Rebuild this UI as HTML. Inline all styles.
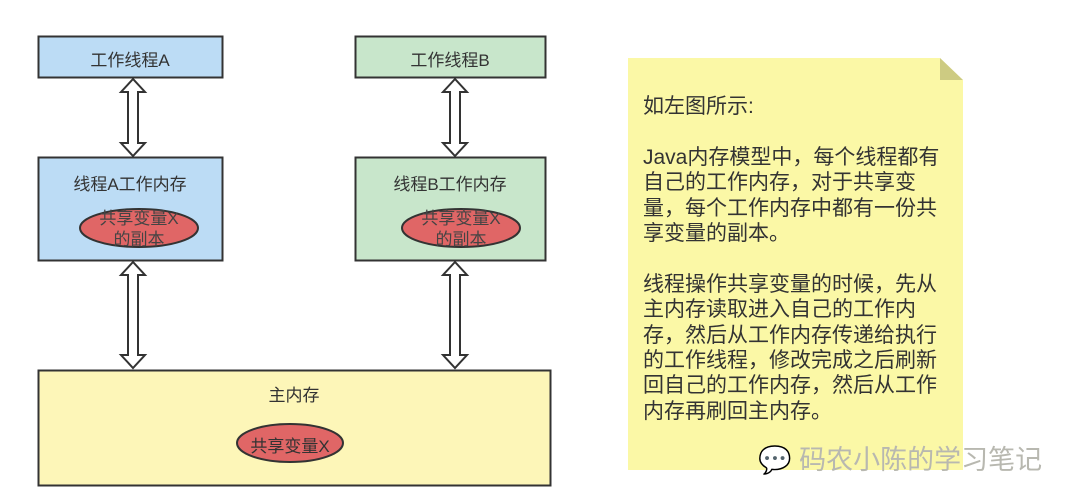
<!DOCTYPE html>
<html><head><meta charset="utf-8"><style>
body{margin:0;width:1080px;height:503px;background:#fff;position:relative;overflow:hidden;font-family:"Liberation Sans","Noto Sans CJK SC",sans-serif;}
.t{position:absolute;white-space:nowrap;color:#333;}
</style></head><body>
<svg width="1080" height="503" style="position:absolute;left:0;top:0" xmlns="http://www.w3.org/2000/svg">
<rect x="38.5" y="36.5" width="184" height="41" fill="#bcdcf5" stroke="#333" stroke-width="2"/>
<rect x="355.5" y="36.5" width="190" height="41" fill="#c8e6cb" stroke="#333" stroke-width="2"/>
<rect x="38.5" y="157.5" width="184" height="103" fill="#bcdcf5" stroke="#333" stroke-width="2"/>
<rect x="355.5" y="157.5" width="190" height="103" fill="#c8e6cb" stroke="#333" stroke-width="2"/>
<rect x="38.5" y="370.5" width="512" height="115" fill="#fdf6b8" stroke="#333" stroke-width="2"/>
<ellipse cx="139" cy="228" rx="59" ry="19" fill="#e06666" stroke="#333" stroke-width="2"/>
<ellipse cx="461" cy="228" rx="59" ry="19" fill="#e06666" stroke="#333" stroke-width="2"/>
<ellipse cx="290" cy="443" rx="53" ry="19" fill="#e06666" stroke="#333" stroke-width="2"/>
<g fill="#fff" stroke="#333" stroke-width="2">
<path d="M133,79 L121,92 L128,92 L128,143 L121,143 L133,156 L145,143 L138,143 L138,92 L145,92 Z"/>
<path d="M133,262 L121,275 L128,275 L128,355 L121,355 L133,368 L145,355 L138,355 L138,275 L145,275 Z"/>
<path d="M455,79 L443,92 L450,92 L450,143 L443,143 L455,156 L467,143 L460,143 L460,92 L467,92 Z"/>
<path d="M455,262 L443,275 L450,275 L450,355 L443,355 L455,368 L467,355 L460,355 L460,275 L467,275 Z"/>
</g>
<path d="M628,58 L940,58 L963,80 L963,470 L628,470 Z" fill="#fbf8a6"/>
<path d="M940,58 L963,80 L940,80 Z" fill="#cdcb82"/>
</svg>
<div class="t" style="left:38px;width:184px;text-align:center;top:46px;font-size:17px">工作线程A</div>
<div class="t" style="left:355px;width:190px;text-align:center;top:46px;font-size:17px">工作线程B</div>
<div class="t" style="left:38px;width:184px;text-align:center;top:170px;font-size:17px">线程A工作内存</div>
<div class="t" style="left:355px;width:190px;text-align:center;top:170px;font-size:17px">线程B工作内存</div>
<div class="t" style="left:80px;width:118px;text-align:center;top:208px;font-size:17px;line-height:21px;color:#444">共享变量X<br>的副本</div>
<div class="t" style="left:402px;width:118px;text-align:center;top:208px;font-size:17px;line-height:21px;color:#444">共享变量X<br>的副本</div>
<div class="t" style="left:38px;width:512px;text-align:center;top:381px;font-size:17px">主内存</div>
<div class="t" style="left:237px;width:106px;text-align:center;top:432px;font-size:17px">共享变量X</div>
<div class="t" style="left:643px;top:94px;font-size:21px;line-height:25.4px;color:#333">如左图所示:<br><br>Java内存模型中，每个线程都有<br>自己的工作内存，对于共享变<br>量，每个工作内存中都有一份共<br>享变量的副本。<br><br>线程操作共享变量的时候，先从<br>主内存读取进入自己的工作内<br>存，然后从工作内存传递给执行<br>的工作线程，修改完成之后刷新<br>回自己的工作内存，然后从工作<br>内存再刷回主内存。</div>
<div class="t" style="left:758px;top:438px;font-size:27px;color:#b8b8b0">&#x1F4AC; 码农小陈的学习笔记</div>
</body></html>
